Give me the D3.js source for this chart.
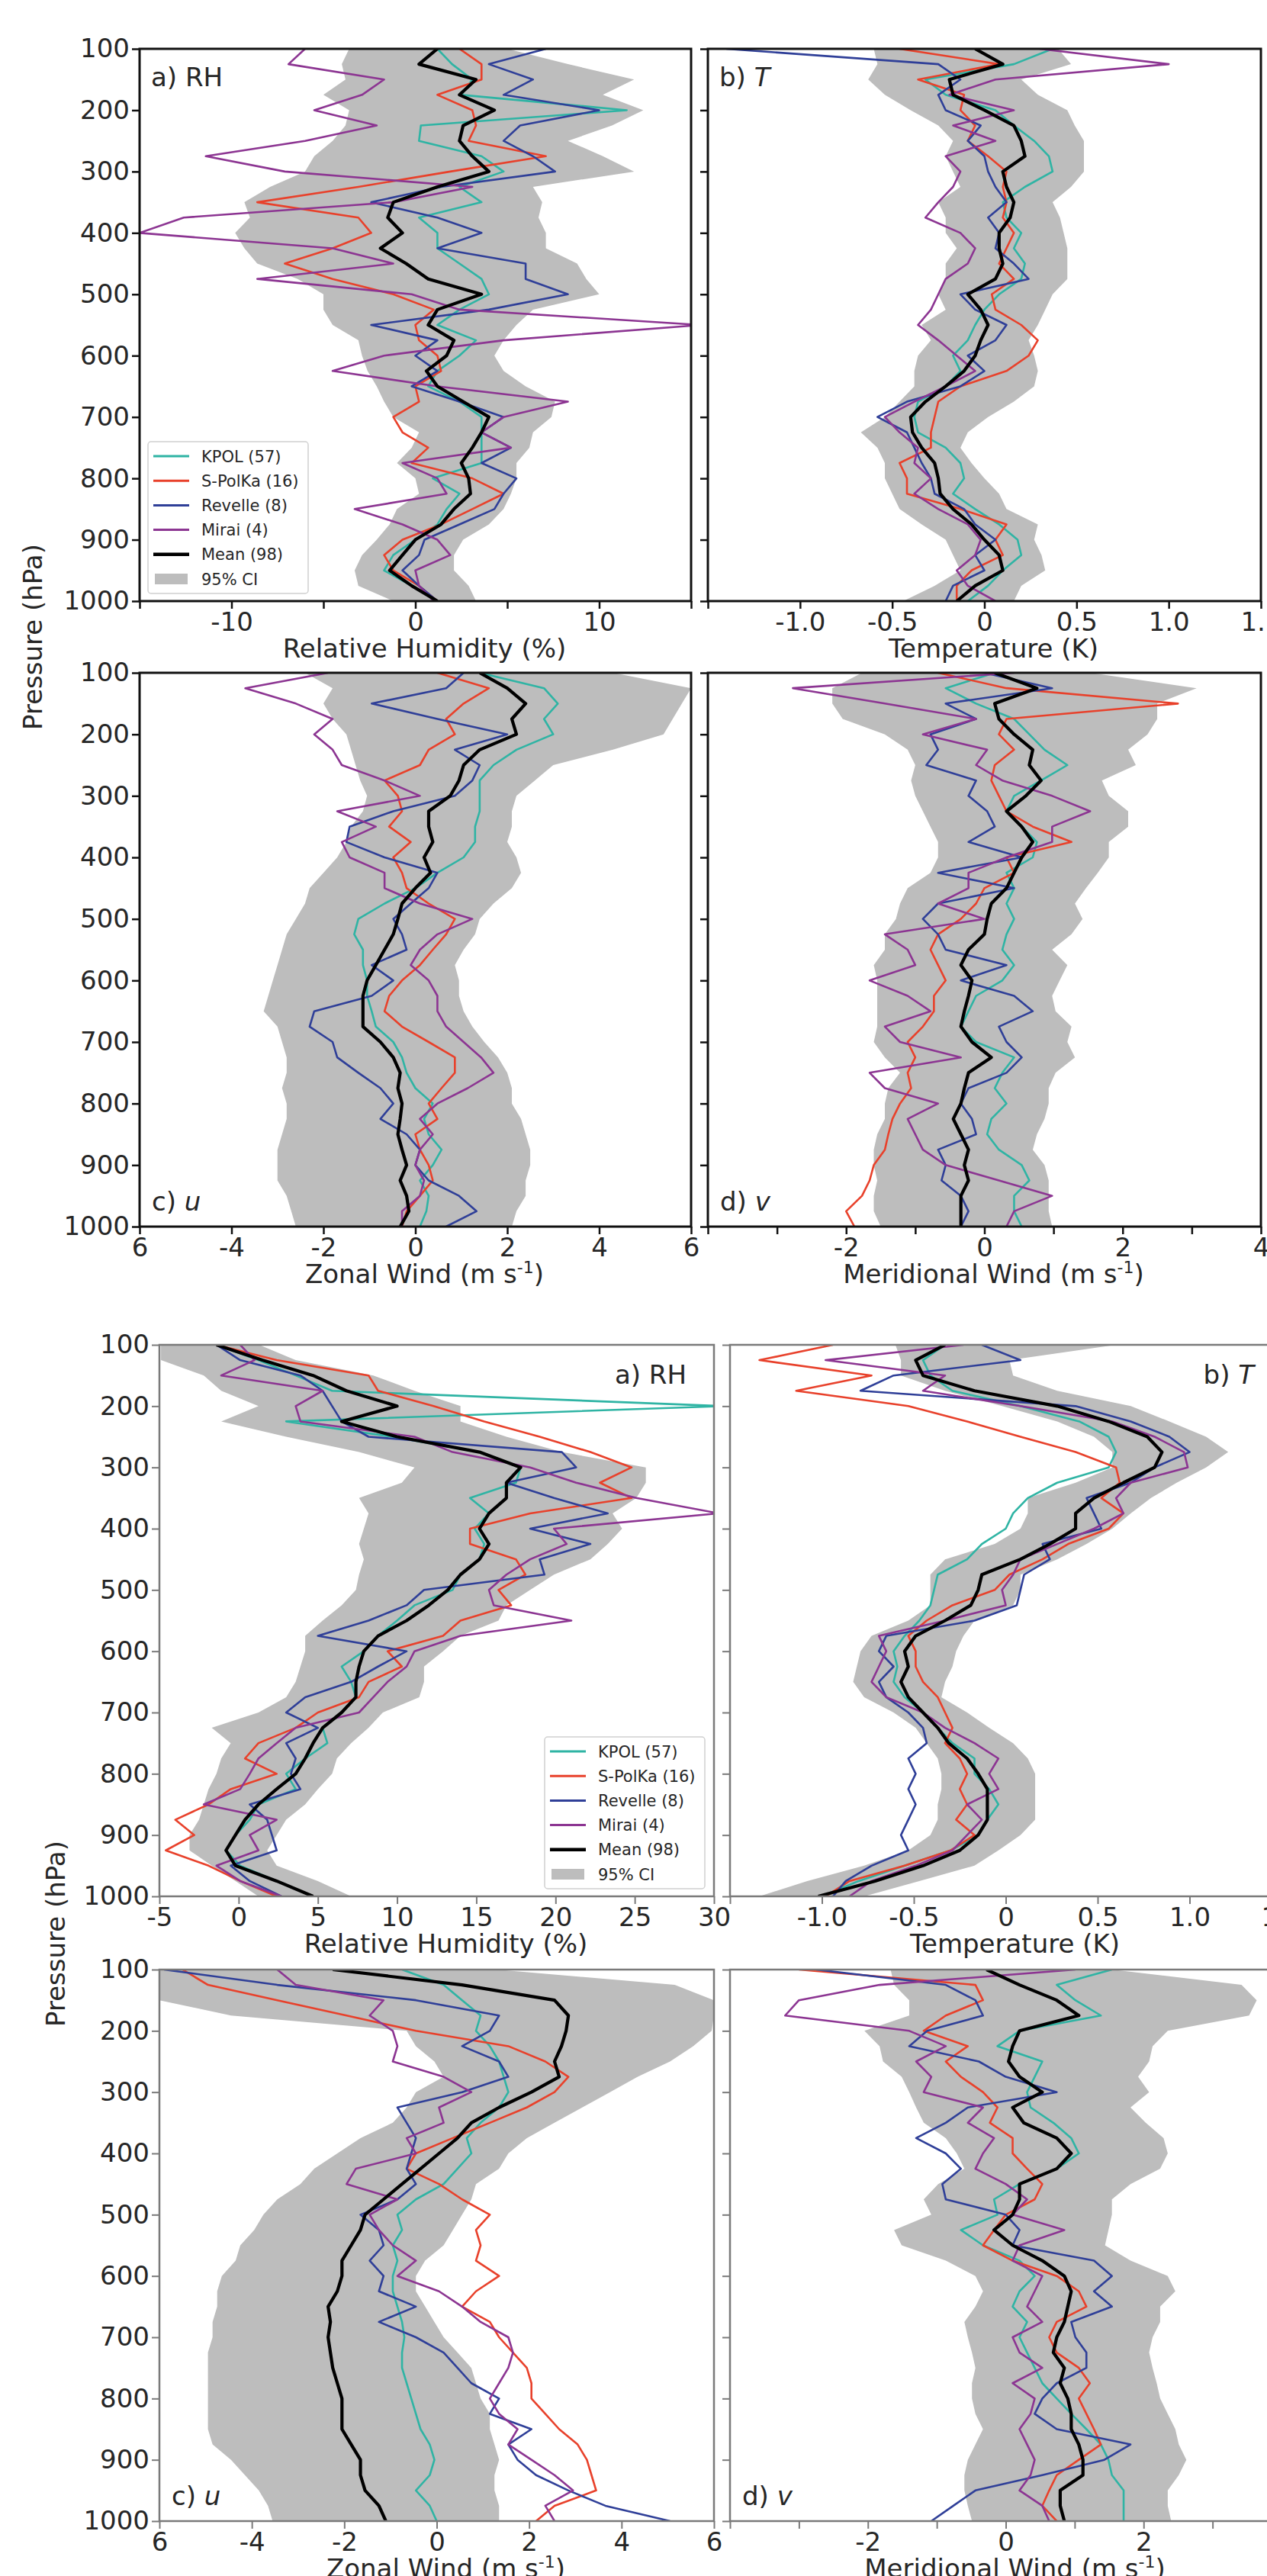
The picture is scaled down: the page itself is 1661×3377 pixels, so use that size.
<!DOCTYPE html>
<html>
<head>
<meta charset="utf-8">
<script src="https://cdn.jsdelivr.net/npm/d3@7"></script>
<style>
  body { margin: 0; background: #fff; }
  svg { display: block; font-family: "DejaVu Sans", sans-serif; }
</style>
</head>
<body>
<div id="chart"></div>
<script>
// pressure levels (hPa) shared by every profile
var levels = [100,125,150,175,200,225,250,275,300,325,350,375,400,425,450,475,500,525,550,575,600,625,650,675,700,725,750,775,800,825,850,875,900,925,950,975,1000];

var seriesNames = ["KPOL (57)", "S-PolKa (16)", "Revelle (8)", "Mirai (4)", "Mean (98)", "95% CI"];

// ---- upper figure ----
var top_rh_mean = [1.2,0.2,3.3,2.4,4.3,2.6,2.4,3.1,4.0,1.2,-1.2,-1.5,-0.7,-1.9,-0.5,0.7,3.6,1.2,0.7,2.1,1.7,0.6,1.2,2.6,4.0,3.6,3.1,2.5,2.9,3.0,2.1,1.4,0.0,-0.7,-1.4,-0.2,1.2];
var top_rh_lo = [-3.6,-4.0,-3.8,-5.0,-3.6,-3.8,-4.5,-5.5,-6.0,-7.9,-9.3,-9.0,-9.8,-9.3,-8.6,-6.4,-5.0,-5.0,-4.5,-3.1,-2.9,-2.6,-2.1,-1.7,-1.2,0.2,-0.2,-1.0,0.0,0.2,-1.0,-1.4,-2.1,-2.9,-3.3,-3.1,-1.2];
var top_rh_hi = [5.0,8.3,11.9,10.2,12.4,10.7,8.3,10.2,11.9,6.4,6.9,6.7,7.1,7.1,8.8,9.3,10.0,6.4,5.5,4.8,4.3,4.8,6.0,7.6,7.4,6.4,6.2,5.5,5.5,5.2,4.8,4.0,2.6,2.1,2.1,2.9,3.3];
var top_rh_kpol = [1.2,2.0,3.1,2.5,11.5,0.3,0.2,3.6,4.8,2.4,3.6,0.2,1.2,1.2,2.4,3.6,4.0,2.4,1.2,3.3,2.4,1.2,0.7,2.4,3.6,3.6,3.6,3.6,0.95,2.4,1.7,1.2,0,-1.2,-1.7,-0.2,1.2];
var top_rh_spol = [2.4,3.6,3.6,1.2,3.1,3.3,2.9,7.1,1.9,-3.1,-8.6,-3.1,-2.4,-4.5,-7.1,-4.5,-1.2,1.0,0,0.2,1.2,1.4,0,0.2,-1.2,-0.7,0.7,-0.2,3.1,4.8,3.1,1.4,-0.7,-1.7,-1.2,0.2,1.2];
var top_rh_rev = [7.1,4.0,6.4,4.8,10.0,5.7,4.8,6.4,7.6,1.4,-2.4,1.2,3.6,1.2,6.0,6.0,8.3,4.0,-2.4,1.2,0,1.2,-0.2,2.4,4.8,3.6,5.2,3.6,5.5,4.8,4.3,2.4,0.5,0.2,-0.7,0.2,1.2];
var top_rh_mirai = [-6.0,-6.9,-1.7,-2.9,-5.5,-2.1,-6.0,-11.4,-7.1,3.1,-1.2,-12.6,-15.0,-4.5,-1.2,-8.6,-0.2,2.4,15.5,4.8,-1.7,-4.5,1.2,8.3,4.8,3.6,5.2,-0.7,1.2,1.7,-3.3,-0.7,1.2,1.9,0,0.2,1.0];

var top_t_mean = [-0.05,0.1,-0.19,-0.17,0,0.16,0.2,0.22,0.1,0.12,0.16,0.14,0.08,0.08,0.1,0.06,-0.09,-0.02,0.02,-0.02,-0.05,-0.11,-0.21,-0.32,-0.4,-0.39,-0.34,-0.27,-0.25,-0.24,-0.17,-0.07,0,0.08,0.1,-0.05,-0.15];
var top_t_lo = [-0.6,-0.58,-0.63,-0.54,-0.4,-0.25,-0.17,-0.21,-0.17,-0.13,-0.25,-0.21,-0.21,-0.15,-0.21,-0.21,-0.25,-0.21,-0.34,-0.29,-0.36,-0.38,-0.38,-0.46,-0.54,-0.67,-0.58,-0.54,-0.54,-0.5,-0.46,-0.34,-0.21,-0.17,-0.13,-0.27,-0.44];
var top_t_hi = [0.4,0.47,0.2,0.29,0.45,0.49,0.54,0.54,0.54,0.47,0.37,0.41,0.43,0.45,0.45,0.45,0.37,0.33,0.29,0.24,0.27,0.29,0.27,0.16,0.02,-0.09,-0.13,-0.07,0,0.08,0.12,0.29,0.27,0.31,0.33,0.2,0.16];
var top_t_kpol = [0.37,0.16,-0.32,-0.21,0.06,0.16,0.27,0.35,0.37,0.22,0.1,0.12,0.2,0.16,0.22,0.2,0.08,0,-0.05,-0.09,-0.17,-0.13,-0.21,-0.36,-0.38,-0.36,-0.21,-0.13,-0.11,-0.17,-0.05,0.08,0.18,0.2,0.1,0.02,-0.09];
var top_t_spol = [-0.46,0.08,-0.36,-0.11,-0.13,-0.05,-0.09,0.02,0.12,0.1,0.12,0.1,0.16,0.12,0.08,0.16,0.04,0.06,0.2,0.29,0.24,0.12,-0.13,-0.25,-0.27,-0.29,-0.29,-0.46,-0.42,-0.42,-0.13,0.12,0.06,0.1,-0.07,-0.15,-0.15];
var top_t_rev = [-1.4,-0.25,-0.13,-0.25,-0.21,-0.02,-0.09,0,0.02,0.06,0.12,0.02,0.08,0.06,0.16,0.24,-0.13,-0.05,0.12,0.06,-0.09,0,-0.13,-0.42,-0.58,-0.42,-0.38,-0.34,-0.29,-0.27,-0.11,-0.05,0.06,-0.05,0,-0.17,-0.21];
var top_t_mirai = [0.3,1.0,0.06,-0.19,0.16,-0.17,0.06,-0.21,-0.13,-0.17,-0.25,-0.32,-0.13,-0.05,-0.09,-0.21,-0.25,-0.29,-0.36,-0.25,-0.15,-0.05,-0.21,-0.38,-0.54,-0.46,-0.36,-0.38,-0.29,-0.38,-0.25,-0.09,-0.02,-0.05,-0.15,-0.09,0.06];

var top_u_mean = [1.4,2.0,2.4,2.1,2.2,1.4,1.05,0.95,0.76,0.29,0.29,0.38,0.19,0.33,0,-0.29,-0.38,-0.48,-0.67,-0.86,-1.05,-1.14,-1.14,-1.14,-0.76,-0.48,-0.33,-0.38,-0.29,-0.33,-0.38,-0.29,-0.19,-0.33,-0.19,-0.14,-0.33];
var top_u_lo = [-2.4,-1.8,-2.0,-1.8,-1.5,-1.4,-1.3,-1.2,-1.05,-1.14,-1.4,-1.5,-1.7,-2.0,-2.3,-2.4,-2.6,-2.8,-2.9,-3.0,-3.1,-3.2,-3.3,-3.0,-2.9,-2.8,-2.8,-2.9,-2.8,-2.8,-2.9,-3.0,-3.0,-3.0,-2.8,-2.7,-2.6];
var top_u_hi = [4.3,6.0,5.8,5.6,5.4,4.3,3.0,2.6,2.2,2.1,2.1,2.0,2.2,2.3,2.1,1.7,1.4,1.3,1.05,0.86,0.95,0.95,1.05,1.24,1.5,1.8,2.0,2.1,2.1,2.3,2.4,2.5,2.5,2.4,2.4,2.2,2.1];
var top_u_kpol = [1.4,2.8,3.1,2.8,3.0,2.2,1.7,1.4,1.4,1.4,1.3,1.3,1.05,0.48,0,-0.67,-1.24,-1.33,-1.14,-1.14,-1.05,-1.05,-0.95,-0.86,-0.48,-0.29,-0.19,0,0.38,0.19,0.29,0.57,0.38,0.1,0.29,0.24,0.1];
var top_u_spol = [0.48,1.6,1.05,0.67,0.86,0.29,0.1,-0.67,-0.38,-0.29,-0.57,-0.1,-0.48,-0.29,-0.19,0.29,0.86,0.67,0.38,0.1,-0.29,-0.57,-0.67,-0.29,0.29,0.86,0.86,0.57,0.29,0.48,0,0.1,0.29,0.38,0.1,-0.19,-0.29];
var top_u_rev = [1.05,0.67,-0.95,0.48,2.0,0.86,1.4,1.24,0.86,-0.48,-1.43,-1.5,-0.67,0.48,0.29,-0.1,-0.48,-0.29,-0.19,-0.95,-0.48,-0.95,-2.2,-2.3,-1.8,-1.7,-1.24,-0.76,-0.48,-0.76,-0.19,0.1,0,0.29,0.95,1.33,0.67];
var top_u_mirai = [-1.9,-3.7,-2.6,-1.8,-2.2,-1.8,-1.6,-0.67,0.1,-1.7,-0.86,-1.6,-1.43,-0.67,-0.67,0.1,1.24,0.48,0.1,-0.1,0.29,0.48,0.48,0.67,1.05,1.43,1.7,1.14,0.48,0.1,0.38,0.1,0,0.19,0.1,-0.29,-0.29];

var top_v_mean = [0.15,0.76,0.15,0.21,0.43,0.7,0.65,0.82,0.6,0.32,0.54,0.7,0.54,0.43,0.32,0.1,0.04,0,-0.23,-0.34,-0.18,-0.23,-0.29,-0.34,-0.18,0.1,-0.23,-0.29,-0.34,-0.45,-0.34,-0.23,-0.29,-0.23,-0.34,-0.34,-0.34];
var top_v_lo = [-1.77,-2.2,-2.2,-2.05,-1.44,-1.11,-1.0,-1.06,-1.0,-0.89,-0.78,-0.67,-0.67,-0.78,-1.11,-1.22,-1.28,-1.44,-1.44,-1.6,-1.55,-1.55,-1.55,-1.55,-1.6,-1.44,-1.22,-1.39,-1.44,-1.44,-1.55,-1.6,-1.6,-1.55,-1.6,-1.6,-1.5];
var top_v_hi = [1.53,3.07,2.5,2.5,2.36,2.08,2.19,1.7,1.8,2.08,2.08,1.8,1.8,1.64,1.47,1.31,1.42,1.26,0.98,1.2,1.09,0.98,1.03,1.26,1.2,1.31,1.03,0.93,0.93,0.87,0.76,0.7,0.87,0.93,0.93,0.93,0.98];
var top_v_kpol = [0.15,-0.56,-0.12,0.43,0.65,0.87,1.2,0.82,0.43,0.32,0.54,0.76,0.7,0.32,0.43,0.32,0.43,0.32,0.26,0.43,0.26,-0.12,-0.23,-0.34,-0.12,0.43,0.26,0.15,0.32,0.1,0.04,0.21,0.54,0.65,0.43,0.43,0.54];
var top_v_spol = [-0.67,0.32,2.8,0.32,0.21,0.43,0.15,0.1,0.21,0.32,0.7,1.26,0.32,0.43,0,-0.12,-0.34,-0.67,-0.78,-0.67,-0.56,-0.73,-0.73,-0.89,-1.11,-1.0,-1.11,-1.06,-1.22,-1.33,-1.39,-1.44,-1.6,-1.66,-1.77,-2.0,-1.88];
var top_v_rev = [0,0.98,-0.56,-0.12,-0.78,-0.67,-0.84,-0.12,-0.23,0.04,0.15,-0.23,0.54,-0.67,0.43,-0.67,-0.89,-0.67,-0.56,0.32,-0.34,0.43,0.7,0.21,0.32,0.54,0.32,-0.23,-0.34,-0.18,-0.12,-0.67,-0.56,-0.62,-0.34,-0.23,-0.34];
var top_v_mirai = [0.43,-2.77,-1.44,-0.12,-0.89,0.04,-0.12,0.26,0.98,1.53,0.98,0.98,0.32,-0.23,-0.23,-0.67,0,-1.44,-1.11,-1.0,-1.66,-1.11,-0.78,-1.44,-1.22,-0.34,-1.66,-1.44,-0.67,-1.11,-1.0,-0.89,-0.56,0.21,0.98,0.43,0.32];

// ---- lower figure ----
var bot_rh_mean = [-1.4,1.5,4.7,6.8,10.0,6.5,10.0,15.2,17.8,16.9,16.9,15.8,15.2,15.8,15.2,14.0,13.2,12.0,10.6,8.8,7.9,7.6,7.4,7.4,6.5,5.3,4.7,4.2,3.6,2.4,1.25,0.4,-0.2,-0.8,-0.2,2.4,4.7];
var bot_rh_lo = [-4.9,-4.9,-2.2,-1.1,1.25,-1.1,3.0,7.6,11.1,10.3,7.6,8.2,7.9,7.6,7.9,7.6,7.4,6.5,5.3,4.2,4.2,3.9,3.6,3.0,1.25,-1.7,-0.5,-1.1,-1.4,-1.9,-2.2,-2.5,-3.1,-3.1,-1.7,-0.2,1.25];
var bot_rh_hi = [1.3,3.6,8.5,11.1,14.0,14.0,16.9,20.4,25.7,25.7,25.1,23.6,24.2,23.3,22.2,19.9,18.4,16.9,16.4,14.0,12.9,11.7,11.7,11.4,9.1,8.2,7.1,6.2,5.9,5.0,4.2,3.0,2.4,1.8,2.4,5.0,7.1];
var bot_rh_kpol = [-1.4,1.25,3.6,5.9,30.5,3.0,9.7,15.2,17.8,17.5,14.6,15.8,14.9,15.5,15.2,14.0,13.5,11.1,10.0,8.8,7.9,6.5,7.1,7.4,6.5,5.3,5.6,4.2,3.0,3.6,1.25,0.7,-0.2,-0.8,0.1,2.4,4.7];
var bot_rh_spol = [-1.4,2.4,8.2,8.8,12.3,15.5,19.0,22.2,24.8,22.8,24.8,18.4,14.6,14.6,17.5,18.1,16.4,17.2,14.0,12.9,9.4,10.3,8.2,7.6,5.0,3.6,1.25,0.4,2.4,-0.5,-1.9,-4.0,-2.8,-4.6,-1.9,0.1,2.4];
var bot_rh_rev = [-1.4,0.1,3.9,5.3,5.9,6.5,8.2,20.4,21.3,16.9,19.9,23.3,18.4,22.2,19.0,19.3,11.7,10.6,8.2,5.0,10.6,8.8,7.1,4.2,3.0,5.0,3.0,3.6,3.3,3.9,0.7,1.8,2.1,2.4,-0.5,0.7,2.7];
var bot_rh_mirai = [0.1,1.0,-1.1,5.3,3.6,3.9,11.1,13.5,18.4,21.3,25.1,30.3,19.9,20.7,18.4,16.9,15.8,16.1,21.0,14.0,11.1,10.6,9.4,8.5,7.6,3.6,2.4,1.25,0.7,0.1,-2.2,2.4,0.7,1.25,-1.4,0.1,2.7];

var bot_t_mean = [-0.33,-0.49,-0.45,-0.17,0.28,0.56,0.77,0.85,0.81,0.64,0.48,0.38,0.38,0.24,0.08,-0.13,-0.15,-0.19,-0.33,-0.49,-0.55,-0.53,-0.57,-0.53,-0.45,-0.37,-0.31,-0.21,-0.15,-0.1,-0.1,-0.1,-0.15,-0.25,-0.45,-0.71,-1.02];
var bot_t_lo = [-0.6,-0.57,-0.57,-0.33,-0.02,0.28,0.48,0.58,0.58,0.38,0.12,0.12,0.08,-0.06,-0.33,-0.41,-0.41,-0.41,-0.53,-0.73,-0.79,-0.81,-0.83,-0.77,-0.61,-0.49,-0.43,-0.37,-0.35,-0.35,-0.37,-0.37,-0.41,-0.53,-0.77,-1.08,-1.34];
var bot_t_hi = [0.6,0.02,0.04,0.28,0.68,0.89,1.09,1.21,1.09,0.93,0.79,0.68,0.58,0.44,0.28,0.08,0.08,0.04,-0.17,-0.23,-0.27,-0.29,-0.33,-0.35,-0.21,-0.09,0.04,0.12,0.16,0.16,0.16,0.16,0.08,-0.04,-0.17,-0.47,-0.77];
var bot_t_kpol = [-0.33,-0.45,-0.41,-0.29,0.08,0.4,0.56,0.6,0.56,0.28,0.12,0.04,0,-0.13,-0.21,-0.37,-0.39,-0.41,-0.47,-0.55,-0.61,-0.59,-0.61,-0.55,-0.45,-0.37,-0.29,-0.17,-0.17,-0.09,-0.04,-0.1,-0.15,-0.3,-0.55,-0.8,-1.0];
var bot_t_spol = [-0.94,-1.34,-0.73,-1.14,-0.53,-0.21,0.08,0.38,0.6,0.62,0.52,0.64,0.56,0.34,0.2,0.02,-0.06,-0.29,-0.43,-0.53,-0.49,-0.49,-0.45,-0.37,-0.33,-0.29,-0.33,-0.25,-0.21,-0.25,-0.21,-0.27,-0.17,-0.3,-0.55,-0.85,-0.98];
var bot_t_rev = [-0.13,0.08,-0.61,-0.79,0.38,0.68,0.89,1.0,0.81,0.68,0.44,0.48,0.52,0.2,0.24,0.1,0.08,0.06,-0.17,-0.65,-0.69,-0.61,-0.69,-0.65,-0.53,-0.45,-0.43,-0.53,-0.49,-0.53,-0.49,-0.53,-0.57,-0.53,-0.73,-0.87,-0.94];
var bot_t_mirai = [-0.23,-0.98,-0.33,-0.45,0.08,0.58,0.81,0.97,0.99,0.68,0.6,0.64,0.48,0.28,0.08,0.04,-0.02,0,-0.33,-0.69,-0.65,-0.69,-0.73,-0.65,-0.45,-0.33,-0.17,-0.04,-0.09,-0.04,-0.21,-0.13,-0.21,-0.29,-0.49,-0.73,-0.85];

var bot_u_mean = [-2.25,0.55,2.55,2.85,2.8,2.7,2.55,2.65,2.05,1.35,0.75,0.45,0.05,-0.35,-0.75,-1.15,-1.55,-1.65,-1.85,-2.05,-2.05,-2.15,-2.35,-2.3,-2.35,-2.3,-2.25,-2.15,-2.05,-2.05,-2.05,-1.85,-1.65,-1.65,-1.55,-1.25,-1.1];
var bot_u_lo = [-6,-6,-6,-4.45,-0.65,-0.45,-0.05,0.15,-0.45,-0.65,-0.95,-1.65,-2.15,-2.65,-2.95,-3.45,-3.75,-3.95,-4.25,-4.35,-4.65,-4.75,-4.75,-4.85,-4.85,-4.95,-4.95,-4.95,-4.95,-4.95,-4.95,-4.85,-4.45,-4.15,-3.85,-3.65,-3.55];
var bot_u_hi = [1.3,5.15,6,6,5.95,5.55,5.05,4.35,3.75,3.15,2.55,1.95,1.55,1.35,0.85,0.75,0.55,0.35,0.15,-0.25,-0.45,-0.45,-0.25,-0.05,0.15,0.45,0.75,0.85,0.95,1.15,1.15,1.25,1.35,1.25,1.25,1.35,1.35];
var bot_u_kpol = [-0.75,0.15,0.55,0.95,0.85,1.15,1.35,1.45,1.55,1.35,0.95,0.65,0.75,0.45,0.15,-0.45,-0.85,-0.75,-0.95,-0.85,-0.95,-0.95,-0.85,-0.75,-0.7,-0.75,-0.75,-0.65,-0.55,-0.45,-0.35,-0.15,-0.05,-0.15,-0.45,-0.15,0];
var bot_u_spol = [-5.5,-4.95,-3.45,-1.95,-0.45,1.55,2.35,2.85,2.55,1.95,1.15,0.35,-0.45,-0.65,0.05,0.55,1.15,0.85,0.95,0.85,1.35,0.85,0.55,1.15,1.35,1.65,1.95,2.05,2.05,2.35,2.65,3.05,3.25,3.35,3.45,2.55,2.15];
var bot_u_rev = [-5.9,-3.45,-0.45,1.35,1.15,0.55,1.35,1.55,0.55,-0.85,-0.65,-0.45,-0.55,-0.65,-0.45,-0.85,-1.65,-1.25,-1.15,-1.45,-1.15,-1.25,-0.45,-1.25,-0.45,0.15,0.45,0.75,1.35,1.15,2.05,1.55,1.75,2.15,2.85,3.65,5.05];
var bot_u_mirai = [-3.45,-3.05,-1.15,-1.45,-0.95,-0.85,-0.95,0.15,0.75,0.05,0.15,-0.65,-0.45,-1.75,-1.95,-0.85,-1.45,-1.25,-0.95,-0.45,-0.85,0.05,0.55,0.95,1.55,1.65,1.55,1.35,1.15,1.35,1.75,1.55,2.05,2.55,2.95,2.35,2.55];

var bot_v_mean = [-0.28,0.2,0.74,1.06,0.2,0.1,0.04,0.2,0.53,0.1,0.26,0.74,0.95,0.74,0.2,0.2,0.1,-0.17,0.1,0.53,0.85,0.95,0.9,0.85,0.74,0.69,0.85,0.79,0.9,0.95,0.95,1.06,1.12,1.12,0.79,0.79,0.85];
var bot_v_lo = [-1.67,-1.62,-1.4,-1.4,-2.05,-1.83,-1.78,-1.51,-1.4,-1.3,-1.19,-0.87,-0.71,-0.6,-0.98,-1.19,-1.08,-1.62,-1.51,-0.87,-0.44,-0.33,-0.44,-0.6,-0.55,-0.49,-0.44,-0.49,-0.49,-0.44,-0.33,-0.44,-0.55,-0.6,-0.6,-0.55,-0.49];
var bot_v_hi = [1.54,3.42,3.64,3.53,2.35,2.13,2.08,1.92,2.08,1.81,2.03,2.29,2.35,2.24,1.81,1.54,1.54,1.49,1.44,1.81,2.35,2.46,2.24,2.24,2.13,2.08,2.13,2.19,2.24,2.35,2.46,2.51,2.62,2.51,2.35,2.35,2.4];
var bot_v_kpol = [1.54,0.74,1.01,1.38,0.2,-0.12,0.53,0.42,0.31,0.36,0.69,0.95,1.06,0.74,0.2,-0.17,-0.12,-0.65,-0.33,0.2,0.42,0.2,0.1,0.31,0.2,0.31,0.42,0.53,0.74,0.95,1.17,1.38,1.49,1.54,1.71,1.71,1.71];
var bot_v_spol = [-3.0,-0.44,-0.33,-0.87,-1.19,-0.55,-0.87,-0.65,-0.33,-0.12,-0.23,0.1,0.1,0.31,0.53,0.42,0,-0.17,-0.33,0.1,0.74,1.06,1.17,0.74,0.63,0.74,1.06,1.22,1.06,1.17,1.28,1.38,1.06,0.74,0.63,0.53,0.74];
var bot_v_rev = [-2.75,-0.87,-0.44,-0.33,-1.14,-1.4,-0.39,0,0.74,-0.55,-0.87,-1.3,-0.87,-0.65,-0.92,-0.87,0,0.2,0.1,1.28,1.54,1.28,1.54,0.95,1.01,1.17,1.17,0.74,0.53,0.42,0.74,1.81,1.43,0.53,-0.44,-0.76,-1.08];
var bot_v_mirai = [1.01,-1.83,-3.0,-3.2,-1.4,-0.87,-1.3,-1.08,-1.19,-0.33,-0.55,-0.17,-0.33,-0.44,0,0.31,0.1,0.85,0.2,0.1,0.53,0.42,0.31,0.53,0.1,0.2,0.53,0.1,0.42,0.36,0.2,0.31,0.42,0.36,0.2,0.53,0.63];

// x axis ticks and their labels
var rhTopTicks = [-15,-10,-5,0,5,10,15];
var rhTopLabels = ["","-10","","0","","10",""];
var rhBotTicks = [-5,0,5,10,15,20,25,30];
var rhBotLabels = ["-5","0","5","10","15","20","25","30"];
var tTicks = [-1.5,-1,-0.5,0,0.5,1,1.5];
var tLabels = ["","-1.0","-0.5","0","0.5","1.0","1.5"];
var uTicks = [-6,-4,-2,0,2,4,6];
var uLabels = ["6","-4","-2","0","2","4","6"];
var vTicks = [-4,-3,-2,-1,0,1,2,3,4];
var vLabels = ["","","-2","","0","","2","","4"];
var pTicks = [100,200,300,400,500,600,700,800,900,1000];

var colors = ["#2fb4a4", "#e8412b", "#2f3f98", "#8c3592", "#000000", "#bdbdbd"];

// layout of the two figures (pixels)
var width = 1661, height = 3377;
var figs = [
  {axis: "#111", axisW: 3, cols: [[183, 906], [928, 1653]], rows: [[64, 788], [882, 1608]], yTitle: [43, 835]},
  {axis: "#7a7a7a", axisW: 2.5, cols: [[209, 936], [957, 1680]], rows: [[1763, 2486], [2582, 3305]], yTitle: [73, 2535]}
];

var panels = [
  {fig: 0, col: 0, row: 0, dom: [-15, 15], ticks: rhTopTicks, labels: rhTopLabels, title: "rh", tag: ["a) RH", ""], tagAt: "tl", legend: "bl",
   d: [top_rh_kpol, top_rh_spol, top_rh_rev, top_rh_mirai, top_rh_mean], lo: top_rh_lo, hi: top_rh_hi},
  {fig: 0, col: 1, row: 0, dom: [-1.5, 1.5], ticks: tTicks, labels: tLabels, title: "t", tag: ["b) ", "T"], tagAt: "tl",
   d: [top_t_kpol, top_t_spol, top_t_rev, top_t_mirai, top_t_mean], lo: top_t_lo, hi: top_t_hi},
  {fig: 0, col: 0, row: 1, dom: [-6, 6], ticks: uTicks, labels: uLabels, title: "u", tag: ["c) ", "u"], tagAt: "bl",
   d: [top_u_kpol, top_u_spol, top_u_rev, top_u_mirai, top_u_mean], lo: top_u_lo, hi: top_u_hi},
  {fig: 0, col: 1, row: 1, dom: [-4, 4], ticks: vTicks, labels: vLabels, title: "v", tag: ["d) ", "v"], tagAt: "bl",
   d: [top_v_kpol, top_v_spol, top_v_rev, top_v_mirai, top_v_mean], lo: top_v_lo, hi: top_v_hi},
  {fig: 1, col: 0, row: 0, dom: [-5, 30], ticks: rhBotTicks, labels: rhBotLabels, title: "rh", tag: ["a) RH", ""], tagAt: "tr", legend: "br",
   d: [bot_rh_kpol, bot_rh_spol, bot_rh_rev, bot_rh_mirai, bot_rh_mean], lo: bot_rh_lo, hi: bot_rh_hi},
  {fig: 1, col: 1, row: 0, dom: [-1.5, 1.5], ticks: tTicks, labels: tLabels, title: "t", tag: ["b) ", "T"], tagAt: "tr",
   d: [bot_t_kpol, bot_t_spol, bot_t_rev, bot_t_mirai, bot_t_mean], lo: bot_t_lo, hi: bot_t_hi},
  {fig: 1, col: 0, row: 1, dom: [-6, 6], ticks: uTicks, labels: uLabels, title: "u", tag: ["c) ", "u"], tagAt: "bl",
   d: [bot_u_kpol, bot_u_spol, bot_u_rev, bot_u_mirai, bot_u_mean], lo: bot_u_lo, hi: bot_u_hi},
  {fig: 1, col: 1, row: 1, dom: [-4, 4], ticks: vTicks, labels: vLabels, title: "v", tag: ["d) ", "v"], tagAt: "bl",
   d: [bot_v_kpol, bot_v_spol, bot_v_rev, bot_v_mirai, bot_v_mean], lo: bot_v_lo, hi: bot_v_hi}
];

var svg = d3.select("#chart").append("svg")
  .attr("width", width)
  .attr("height", height);
svg.append("rect").attr("width", width).attr("height", height).attr("fill", "#fff");

var textCol = "#262626";

//x axis title, with superscript for the wind units
function addTitle(g, kind, cx, y) {
  var t = g.append("text").attr("x", cx).attr("y", y)
    .attr("text-anchor", "middle").attr("font-size", 34).attr("fill", textCol);
  if (kind == "rh") t.text("Relative Humidity (%)");
  else if (kind == "t") t.text("Temperature (K)");
  else {
    t.append("tspan").text(kind == "u" ? "Zonal Wind (m s" : "Meridional Wind (m s");
    t.append("tspan").attr("font-size", 22).attr("dy", -13).text("-1");
    t.append("tspan").attr("dy", 13).text(")");
  }
}

panels.forEach(function(p, i) {
  var f = figs[p.fig];
  var x0 = f.cols[p.col][0], x1 = f.cols[p.col][1];
  var y0 = f.rows[p.row][0], y1 = f.rows[p.row][1];

  var x = d3.scaleLinear().domain(p.dom).range([x0, x1]);
  var y = d3.scaleLinear().domain([100, 1000]).range([y0, y1]);

  var g = svg.append("g");
  var clipId = "clip" + i;
  svg.append("clipPath").attr("id", clipId)
    .append("rect").attr("x", x0).attr("y", y0).attr("width", x1 - x0).attr("height", y1 - y0);

  var plot = g.append("g").attr("clip-path", "url(#" + clipId + ")");

  //confidence band
  var band = levels.map((lev, k) => ({p: lev, lo: p.lo[k], hi: p.hi[k]}));
  plot.append("path")
    .datum(band)
    .attr("fill", colors[5])
    .attr("d", d3.area().y(d => y(d.p)).x0(d => x(d.lo)).x1(d => x(d.hi)));

  var line = d3.line().x(d => x(d.v)).y(d => y(d.p));
  p.d.forEach(function(vals, s) {
    var pts = levels.map((lev, k) => ({p: lev, v: vals[k]}));
    plot.append("path")
      .datum(pts)
      .attr("fill", "none")
      .attr("stroke", colors[s])
      .attr("stroke-width", s == 4 ? 4.2 : 2.6)
      .attr("stroke-linejoin", "round")
      .attr("d", line);
  });

  //axes
  var xAxis = d3.axisBottom(x).tickValues(p.ticks)
    .tickFormat((d, k) => p.labels[k]).tickSize(10).tickSizeOuter(0).tickPadding(5);
  var yAxis = d3.axisLeft(y).tickValues(pTicks)
    .tickFormat(p.col == 0 ? d3.format("d") : "").tickSize(10).tickSizeOuter(0).tickPadding(3);

  var gx = g.append("g").attr("transform", "translate(0," + y1 + ")").call(xAxis);
  var gy = g.append("g").attr("transform", "translate(" + x0 + ",0)").call(yAxis);
  [gx, gy].forEach(function(a) {
    a.select(".domain").remove();
    a.attr("font-family", null).attr("font-size", null);
    a.selectAll("line").attr("stroke", f.axis).attr("stroke-width", f.axisW - 0.5);
    a.selectAll("text").attr("font-size", 34).attr("fill", textCol);
  });

  g.append("rect")
    .attr("x", x0).attr("y", y0).attr("width", x1 - x0).attr("height", y1 - y0)
    .attr("fill", "none").attr("stroke", f.axis).attr("stroke-width", f.axisW);

  addTitle(g, p.title, (x0 + x1) / 2 + 12, y1 + 74);

  //panel letter
  var tx, ty, anchor = "start";
  if (p.tagAt == "tl") { tx = x0 + 15; ty = y0 + 49; }
  else if (p.tagAt == "tr") { tx = x1 - 36; ty = y0 + 51; anchor = "end"; }
  else { tx = x0 + 16; ty = y1 - 21; }
  var tag = g.append("text").attr("x", tx).attr("y", ty)
    .attr("text-anchor", anchor).attr("font-size", 34).attr("fill", textCol);
  tag.append("tspan").text(p.tag[0]);
  if (p.tag[1] != "") tag.append("tspan").attr("font-style", "italic").text(p.tag[1]);

  //legend
  if (p.legend) {
    var lx = p.legend == "bl" ? x0 + 11 : x1 - 222;
    var ly = y1 - 209;
    var lg = g.append("g").attr("transform", "translate(" + lx + "," + ly + ")");
    lg.append("rect").attr("width", 210).attr("height", 199).attr("rx", 4)
      .attr("fill", "#fff").attr("fill-opacity", 0.85)
      .attr("stroke", "#d0d0d0").attr("stroke-width", 1.5);
    seriesNames.forEach(function(name, k) {
      var cy = 19 + k * 32.2;
      if (k < 5) {
        lg.append("line").attr("x1", 7).attr("x2", 54).attr("y1", cy).attr("y2", cy)
          .attr("stroke", colors[k]).attr("stroke-width", k == 4 ? 4.5 : 3);
      } else {
        lg.append("rect").attr("x", 9).attr("y", cy - 7).attr("width", 43).attr("height", 14)
          .attr("fill", colors[5]);
      }
      lg.append("text").attr("x", 70).attr("y", cy + 7.5)
        .attr("font-size", 21).attr("fill", textCol).text(name);
    });
  }
});

//shared y titles
figs.forEach(function(f) {
  svg.append("text")
    .attr("transform", "translate(" + f.yTitle[0] + "," + f.yTitle[1] + ") rotate(-90)")
    .attr("text-anchor", "middle").attr("dy", "0.35em")
    .attr("font-size", 34).attr("fill", textCol)
    .text("Pressure (hPa)");
});
</script>
</body>
</html>
